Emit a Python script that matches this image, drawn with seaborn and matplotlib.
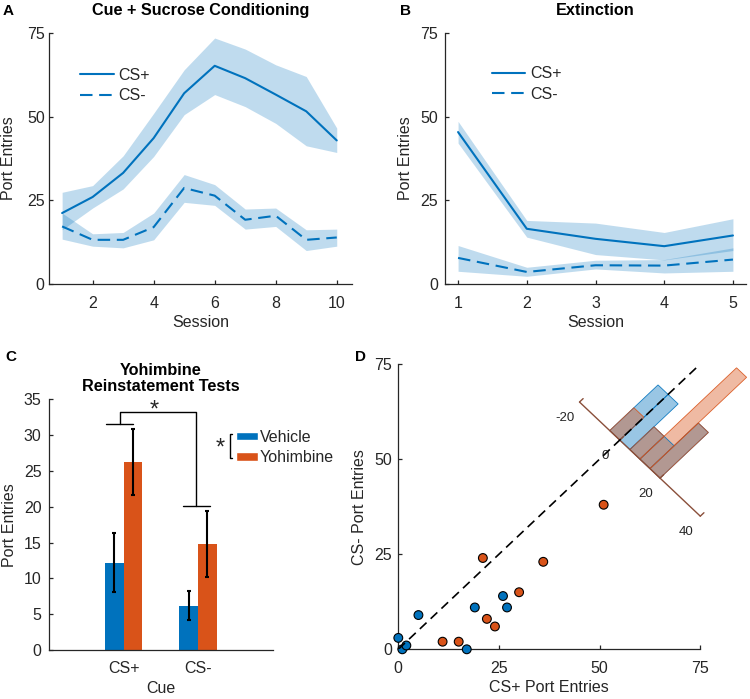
import numpy as np
import pandas as pd
import matplotlib
matplotlib.use("Agg")
import matplotlib.pyplot as plt
from matplotlib.patches import Polygon, Patch
import seaborn as sns

# ---------------- data ----------------
sessions_A = [1, 2, 3, 4, 5, 6, 7, 8, 9, 10]
csp_A = [21.2, 26.0, 33.2, 43.6, 57.0, 65.2, 61.5, 56.6, 51.6, 42.9]
csp_A_hi = [27.4, 29.4, 38.3, 51.0, 64.0, 73.5, 70.2, 65.5, 62.0, 46.6]
csp_A_lo = [16.2, 22.7, 28.4, 38.1, 50.6, 56.6, 53.0, 48.0, 41.3, 39.3]
csm_A = [17.2, 13.2, 13.2, 17.0, 28.7, 26.4, 19.2, 20.4, 13.2, 13.9]
csm_A_hi = [21.2, 15.0, 15.4, 21.2, 32.7, 29.7, 22.4, 22.7, 16.2, 16.4]
csm_A_lo = [13.4, 11.3, 10.8, 13.2, 24.4, 23.5, 16.4, 17.2, 10.0, 11.3]

sessions_B = [1, 2, 3, 4, 5]
csp_B = [45.4, 16.5, 13.5, 11.3, 14.5]
csp_B_hi = [48.6, 19.0, 18.2, 15.4, 19.5]
csp_B_lo = [42.1, 14.0, 8.8, 7.2, 10.0]
csm_B = [7.8, 3.6, 5.6, 5.5, 7.3]
csm_B_hi = [11.5, 5.0, 7.1, 7.3, 10.8]
csm_B_lo = [3.8, 2.3, 4.5, 3.3, 3.8]

cues = ["CS+", "CS-"]
treatments = ["Vehicle", "Yohimbine"]
vehicle_mean = [12.2, 6.2]
vehicle_sem = [4.1, 2.05]
yohimbine_mean = [26.3, 14.8]
yohimbine_sem = [4.6, 4.6]

veh_csp = [0, 1, 2, 5, 17, 19, 26, 27]
veh_csm = [3, 0, 1, 9, 0, 11, 14, 11]
yoh_csp = [11, 15, 21, 22, 24, 30, 36, 51]
yoh_csm = [2, 2, 24, 8, 6, 15, 23, 38]
hist_edges = [-5, 0, 5, 10, 15, 20]
inset_ticks = [-20, 0, 20, 40]

BLUE = "#0072BD"
ORANGE = "#D95319"
TXT = "#262626"
BROWN = "#8a4f3a"
FS = 11.5

# ---------------- style ----------------
sns.set_style("ticks")
plt.rcParams.update({
    "font.family": ["Liberation Sans", "DejaVu Sans"],
    "font.size": FS,
    "axes.edgecolor": TXT,
    "axes.labelcolor": TXT,
    "text.color": TXT,
    "xtick.color": TXT,
    "ytick.color": TXT,
    "xtick.direction": "in",
    "ytick.direction": "in",
    "xtick.major.size": 2.6,
    "ytick.major.size": 2.6,
    "xtick.major.width": 0.9,
    "ytick.major.width": 0.9,
    "axes.linewidth": 0.9,
    "xtick.labelsize": FS,
    "ytick.labelsize": FS,
    "axes.labelsize": FS,
})

W, H = 750, 699
fig = plt.figure(figsize=(W / 100, H / 100), dpi=100)


def add_ax(left, top, right, bottom):
    return fig.add_axes([left / W, 1 - bottom / H, (right - left) / W, (bottom - top) / H])


def finish(ax, xpad, ypad):
    sns.despine(ax=ax)
    ax.tick_params(axis="x", pad=xpad)
    ax.tick_params(axis="y", pad=ypad)


DASH = (0, (6.0, 3.2))
LEG = dict(frameon=False, loc="center left", bbox_transform=fig.transFigure, borderpad=0,
           borderaxespad=0, fontsize=FS)


def line_panel(ax, x, p, plo, phi, m, mlo, mhi):
    ax.fill_between(x, plo, phi, color=BLUE, alpha=0.25, lw=0)
    ax.fill_between(x, mlo, mhi, color=BLUE, alpha=0.25, lw=0)
    sns.lineplot(x=x, y=p, ax=ax, color=BLUE, lw=1.5, errorbar=None)
    sns.lineplot(x=x, y=m, ax=ax, color=BLUE, lw=1.5, errorbar=None, linestyle=DASH)
    ax.set_ylim(0, 75)
    ax.set_yticks([0, 25, 50, 75])
    ax.set_xlabel("Session")
    ax.set_ylabel("Port Entries")


# ---------------- Panel A ----------------
axA = add_ax(49, 33, 352, 284)
line_panel(axA, sessions_A, csp_A, csp_A_lo, csp_A_hi, csm_A, csm_A_lo, csm_A_hi)
axA.set_xlim(0.57, 10.5)
axA.set_xticks([2, 4, 6, 8, 10])
finish(axA, 8.5, 3.1)
axA.set_title("Cue + Sucrose Conditioning", fontweight="bold", color="black", pad=13, fontsize=11.7)
axA.yaxis.set_label_coords(-0.109, 0.5)
axA.xaxis.set_label_coords(0.5, -0.125)
axA.legend(handles=axA.lines[:2], labels=["CS+", "CS-"], bbox_to_anchor=(80 / W, 1 - 85.5 / H),
           handlelength=2.1, handletextpad=0.3, labelspacing=0.35, **LEG)

# ---------------- Panel B ----------------
axB = add_ax(445, 33, 746, 284)
line_panel(axB, sessions_B, csp_B, csp_B_lo, csp_B_hi, csm_B, csm_B_lo, csm_B_hi)
axB.set_xlim(0.81, 5.19)
axB.set_xticks([1, 2, 3, 4, 5])
finish(axB, 8.5, 4.8)
axB.set_title("Extinction", fontweight="bold", color="black", pad=13, fontsize=11.7)
axB.yaxis.set_label_coords(-0.105, 0.5)
axB.xaxis.set_label_coords(0.5, -0.125)
axB.legend(handles=axB.lines[:2], labels=["CS+", "CS-"], bbox_to_anchor=(491.7 / W, 1 - 84.2 / H),
           handlelength=2.1, handletextpad=0.3, labelspacing=0.35, **LEG)

# ---------------- Panel C ----------------
axC = add_ax(49, 399.3, 272.7, 650)
dfC = pd.DataFrame({
    "Cue": cues * 2,
    "Treatment": [treatments[0]] * 2 + [treatments[1]] * 2,
    "mean": vehicle_mean + yohimbine_mean,
    "sem": vehicle_sem + yohimbine_sem,
})
sns.barplot(data=dfC, x="Cue", y="mean", hue="Treatment", order=cues, hue_order=treatments,
            palette=[BLUE, ORANGE], width=0.5, errorbar=None, saturation=1, legend=False,
            ax=axC, linewidth=0)
for patch in axC.patches:
    h = patch.get_height()
    if h <= 0:
        continue
    row = dfC.iloc[int(np.argmin(np.abs(dfC["mean"].values - h)))]
    xc = patch.get_x() + patch.get_width() / 2
    axC.errorbar(xc, h, yerr=row["sem"], color="black", lw=1.5, capsize=1.4, capthick=1.5, zorder=5)
axC.set_xlim(-1, 2)
axC.set_ylim(0, 35)
axC.set_yticks(range(0, 36, 5))
axC.set_xlabel("Cue")
axC.set_ylabel("Port Entries")
finish(axC, 8.0, 5.3)
axC.yaxis.set_label_coords(-0.144, 0.5)
axC.xaxis.set_label_coords(0.5, -0.122)
axC.set_title("Yohimbine\nReinstatement Tests", fontweight="bold", color="black", pad=3.6,
              va="bottom", linespacing=1.1, fontsize=11.7)
# significance brackets
kw = dict(color="black", lw=1.0, clip_on=False)
axC.plot([-0.233, 0.13], [31.5, 31.5], **kw)
axC.plot([-0.045, -0.045, 0.974, 0.974], [31.5, 33.2, 33.2, 20.1], **kw)
axC.plot([0.80, 1.16], [20.1, 20.1], **kw)
axC.text(0.417, 33.5, "*", ha="center", va="center", fontsize=17, color=TXT)
axC.legend(handles=[Patch(facecolor=BLUE), Patch(facecolor=ORANGE)], labels=treatments,
           bbox_to_anchor=(235.7 / W, 1 - 447.3 / H), handlelength=1.37, handleheight=0.45,
           handletextpad=0.12, labelspacing=0.35, **LEG)
axC.plot([1.46, 1.423, 1.423, 1.46], [30.1, 30.1, 26.76, 26.76], **kw)
axC.text(1.30, 28.1, "*", ha="center", va="center", fontsize=17, color=TXT)

# ---------------- Panel D ----------------
axD = add_ax(398.3, 364, 700.3, 649.3)
dfD = pd.DataFrame({
    "csp": veh_csp + yoh_csp,
    "csm": veh_csm + yoh_csm,
    "Treatment": [treatments[0]] * len(veh_csp) + [treatments[1]] * len(yoh_csp),
})
axD.plot([0, 75], [0, 75], color="black", lw=1.2, linestyle=(0, (5.5, 3.4)), zorder=6)
sns.scatterplot(data=dfD, x="csp", y="csm", hue="Treatment", palette=[BLUE, ORANGE],
                s=40, edgecolor="black", linewidth=0.8, legend=False, ax=axD,
                clip_on=False, zorder=4)
axD.set_xlim(0, 75)
axD.set_ylim(0, 75)
axD.set_xticks([0, 25, 50, 75])
axD.set_yticks([0, 25, 50, 75])
axD.set_xlabel("CS+ Port Entries")
axD.set_ylabel("CS- Port Entries")
finish(axD, 8.5, 4.7)
axD.yaxis.set_label_coords(-0.1045, 0.5)
axD.xaxis.set_label_coords(0.5, -0.109)

# rotated difference histogram (CS+ minus CS-) inset
center = np.array([55.0, 55.0])
u = np.array([0.5, -0.5])   # along difference axis, per unit
v = np.array([1.0, 1.0])    # along bar direction
S = 240.0                   # density -> data units
for xs, ys, col in [(veh_csp, veh_csm, BLUE), (yoh_csp, yoh_csm, ORANGE)]:
    diff = np.array(xs) - np.array(ys)
    dens, edges = np.histogram(diff, bins=hist_edges, density=True)
    for d0, d1, h in zip(edges[:-1], edges[1:], dens):
        if h <= 0:
            continue
        b0 = center + d0 * u
        b1 = center + d1 * u
        poly = np.array([b0, b1, b1 + h * S * v, b0 + h * S * v])
        axD.add_patch(Polygon(poly, closed=True, facecolor=col, alpha=0.4, edgecolor="none",
                              clip_on=False, zorder=3))
        axD.add_patch(Polygon(poly, closed=True, facecolor="none", edgecolor=col, lw=0.6,
                              alpha=0.9, clip_on=False, zorder=3.1))
p0 = center + inset_ticks[0] * u
p1 = center + inset_ticks[-1] * u
axD.plot([p0[0], p1[0]], [p0[1], p1[1]], color=BROWN, lw=1.0, clip_on=False, zorder=5)
for t in inset_ticks:
    pt = center + t * u
    axD.plot([pt[0], pt[0] + 0.9], [pt[1], pt[1] + 0.9], color=BROWN, lw=1.0, clip_on=False, zorder=5)
    axD.text(pt[0] - 3.6, pt[1] - 4.1, f"{t}", ha="center", va="center", fontsize=9.5, color=TXT)

# ---------------- panel letters ----------------
for lab, x, y in [("A", 3, 15), ("B", 400, 15), ("C", 5, 361), ("D", 355, 361)]:
    fig.text(x / W, 1 - y / H, lab, fontweight="bold", fontsize=11, color="black", va="baseline")

fig.savefig("out.png", dpi=100)
